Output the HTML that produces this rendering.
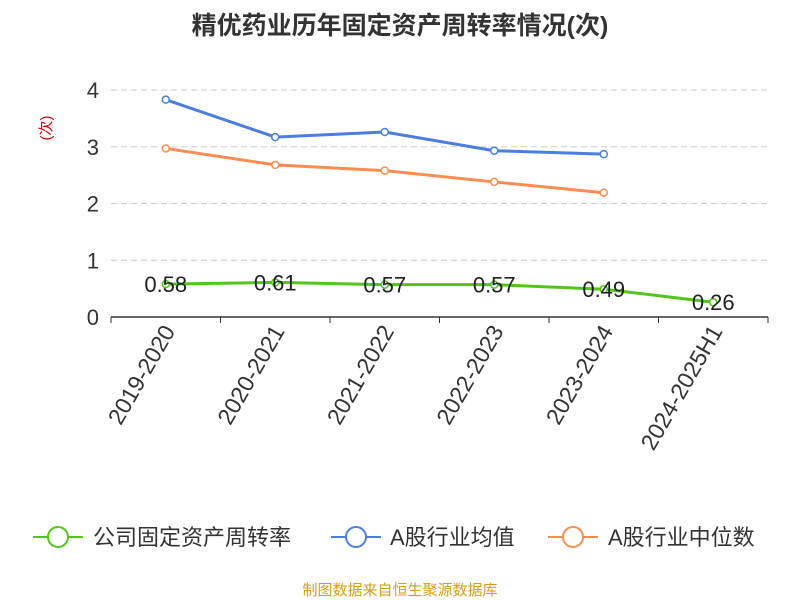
<!DOCTYPE html>
<html><head><meta charset="utf-8"><style>
body{margin:0;background:#fff;}
svg{display:block;font-family:"Liberation Sans","Noto Sans CJK SC",sans-serif;}
</style></head><body>
<svg id="chart" width="800" height="600">
<text x="400" y="34" text-anchor="middle" font-size="25" font-weight="bold" fill="#333">精优药业历年固定资产周转率情况(次)</text>
<text transform="translate(51,128) rotate(-90)" text-anchor="middle" font-size="15" fill="#e00000">(次)</text>
<g id="grid"></g><g id="axes"></g><g id="series"></g>
<g>
 <g><line x1="33" y1="537" x2="83" y2="537" stroke="#52c41a" stroke-width="2"/><circle cx="58" cy="537" r="10" fill="#fff" stroke="#52c41a" stroke-width="2"/><text x="93" y="545" font-size="22" fill="#333">公司固定资产周转率</text></g>
 <g><line x1="331" y1="537" x2="381" y2="537" stroke="#4a7fe0" stroke-width="2"/><circle cx="356" cy="537" r="10" fill="#fff" stroke="#4a7fe0" stroke-width="2"/><text x="390" y="545" font-size="22" fill="#333">A股行业均值</text></g>
 <g><line x1="548" y1="537" x2="598" y2="537" stroke="#ff8c50" stroke-width="2"/><circle cx="573" cy="537" r="10" fill="#fff" stroke="#ff8c50" stroke-width="2"/><text x="608" y="545" font-size="22" fill="#333">A股行业中位数</text></g>
</g>
<text x="400" y="595" text-anchor="middle" font-size="15" fill="#d4a017">制图数据来自恒生聚源数据库</text>
</svg>
<script>
const categories=["2019-2020","2020-2021","2021-2022","2022-2023","2023-2024","2024-2025H1"];
const companyValues=[0.58,0.61,0.57,0.57,0.49,0.26];
const meanValues=[3.83,3.17,3.26,2.93,2.87];
const medianValues=[2.97,2.68,2.58,2.38,2.19];
const yTicks=[0,1,2,3,4];
const NS="http://www.w3.org/2000/svg";
const x0=111,x1=768,yBase=317,yTop=90,yMax=4;
const bw=(x1-x0)/categories.length;
const xs=i=>x0+bw*(i+0.5);
const ys=v=>yBase-(v/yMax)*(yBase-yTop);
function mk(tag,attrs,parent){const e=document.createElementNS(NS,tag);for(const k in attrs)e.setAttribute(k,attrs[k]);parent.appendChild(e);return e;}
const grid=document.getElementById('grid'),axes=document.getElementById('axes'),series=document.getElementById('series');
yTicks.forEach(t=>{
 if(t>0){const l=mk('line',{x1:x0,x2:x1,y1:ys(t),y2:ys(t),stroke:'#ccc','stroke-dasharray':'6,4'},grid);
 
 }
 const tx=mk('text',{x:x0-12,y:ys(t)+8,'text-anchor':'end','font-size':22,fill:'#333'},axes);tx.textContent=t;
 
 
});
const ax=mk('line',{x1:x0,x2:x1,y1:yBase,y2:yBase,stroke:'#333','stroke-width':1.5},axes);


for(let i=0;i<=categories.length;i++){mk('line',{x1:x0+bw*i,x2:x0+bw*i,y1:yBase,y2:yBase+6,stroke:'#333'},axes);}
categories.forEach((c,i)=>{
 const t=mk('text',{transform:`translate(${xs(i)+10},${yBase+14}) rotate(-60)`,'text-anchor':'end','font-size':23,fill:'#333'},axes);t.textContent=c;
 
 
});
function drawLine(vals,color,name,labels){
 const p=mk('polyline',{points:vals.map((v,i)=>xs(i)+','+ys(v)).join(' '),fill:'none',stroke:color,'stroke-width':3},series);
 
 
 vals.forEach((v,i)=>{
  const c=mk('circle',{cx:xs(i),cy:ys(v),r:3.5,fill:'#fff',stroke:color,'stroke-width':1.5},series);
  
  
  if(labels){const t=mk('text',{x:xs(i),y:ys(v)+8,'text-anchor':'middle','font-size':22,fill:'#222'},series);t.textContent=v.toFixed(2);
  
  }
 });
}
drawLine(meanValues,'#4a7fe0','industry-mean',false);
drawLine(medianValues,'#ff8c50','industry-median',false);
drawLine(companyValues,'#52c41a','company',true);
</script>
</body></html>
